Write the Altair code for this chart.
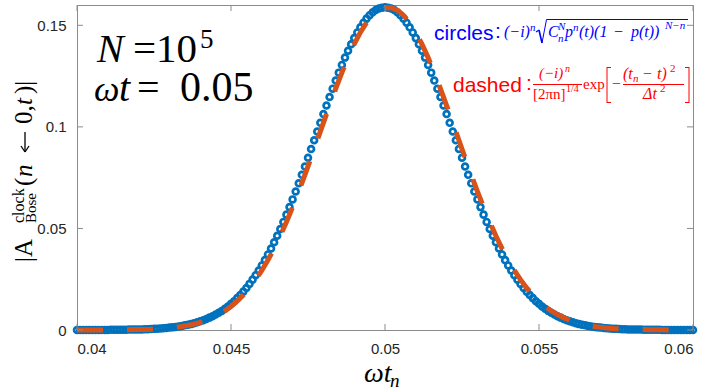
import altair as alt
import pandas as pd

# omega*t_n positions of the circles
x_vals = [
    0.0400, 0.0401, 0.0402, 0.0403, 0.0404, 0.0405, 0.0406, 0.0407, 0.0408, 0.0409,
    0.0410, 0.0411, 0.0412, 0.0413, 0.0414, 0.0415, 0.0416, 0.0417, 0.0418, 0.0419,
    0.0420, 0.0421, 0.0422, 0.0423, 0.0424, 0.0425, 0.0426, 0.0427, 0.0428, 0.0429,
    0.0430, 0.0431, 0.0432, 0.0433, 0.0434, 0.0435, 0.0436, 0.0437, 0.0438, 0.0439,
    0.0440, 0.0441, 0.0442, 0.0443, 0.0444, 0.0445, 0.0446, 0.0447, 0.0448, 0.0449,
    0.0450, 0.0451, 0.0452, 0.0453, 0.0454, 0.0455, 0.0456, 0.0457, 0.0458, 0.0459,
    0.0460, 0.0461, 0.0462, 0.0463, 0.0464, 0.0465, 0.0466, 0.0467, 0.0468, 0.0469,
    0.0470, 0.0471, 0.0472, 0.0473, 0.0474, 0.0475, 0.0476, 0.0477, 0.0478, 0.0479,
    0.0480, 0.0481, 0.0482, 0.0483, 0.0484, 0.0485, 0.0486, 0.0487, 0.0488, 0.0489,
    0.0490, 0.0491, 0.0492, 0.0493, 0.0494, 0.0495, 0.0496, 0.0497, 0.0498, 0.0499,
    0.0500, 0.0501, 0.0502, 0.0503, 0.0504, 0.0505, 0.0506, 0.0507, 0.0508, 0.0509,
    0.0510, 0.0511, 0.0512, 0.0513, 0.0514, 0.0515, 0.0516, 0.0517, 0.0518, 0.0519,
    0.0520, 0.0521, 0.0522, 0.0523, 0.0524, 0.0525, 0.0526, 0.0527, 0.0528, 0.0529,
    0.0530, 0.0531, 0.0532, 0.0533, 0.0534, 0.0535, 0.0536, 0.0537, 0.0538, 0.0539,
    0.0540, 0.0541, 0.0542, 0.0543, 0.0544, 0.0545, 0.0546, 0.0547, 0.0548, 0.0549,
    0.0550, 0.0551, 0.0552, 0.0553, 0.0554, 0.0555, 0.0556, 0.0557, 0.0558, 0.0559,
    0.0560, 0.0561, 0.0562, 0.0563, 0.0564, 0.0565, 0.0566, 0.0567, 0.0568, 0.0569,
    0.0570, 0.0571, 0.0572, 0.0573, 0.0574, 0.0575, 0.0576, 0.0577, 0.0578, 0.0579,
    0.0580, 0.0581, 0.0582, 0.0583, 0.0584, 0.0585, 0.0586, 0.0587, 0.0588, 0.0589,
    0.0590, 0.0591, 0.0592, 0.0593, 0.0594, 0.0595, 0.0596, 0.0597, 0.0598, 0.0599,
    0.0600,
]

# |A| values of the circles
y_vals = [
    0.0000, 0.0000, 0.0000, 0.0000, 0.0000, 0.0000, 0.0000, 0.0000, 0.0000, 0.0000,
    0.0000, 0.0001, 0.0001, 0.0001, 0.0001, 0.0001, 0.0001, 0.0002, 0.0002, 0.0002,
    0.0003, 0.0003, 0.0004, 0.0004, 0.0005, 0.0006, 0.0006, 0.0007, 0.0009, 0.0010,
    0.0012, 0.0013, 0.0015, 0.0017, 0.0020, 0.0023, 0.0026, 0.0029, 0.0033, 0.0038,
    0.0043, 0.0048, 0.0054, 0.0061, 0.0068, 0.0076, 0.0085, 0.0094, 0.0105, 0.0116,
    0.0129, 0.0142, 0.0157, 0.0172, 0.0189, 0.0207, 0.0227, 0.0248, 0.0270, 0.0293,
    0.0318, 0.0344, 0.0372, 0.0401, 0.0432, 0.0464, 0.0497, 0.0532, 0.0568, 0.0605,
    0.0643, 0.0682, 0.0722, 0.0764, 0.0805, 0.0848, 0.0891, 0.0934, 0.0977, 0.1020,
    0.1063, 0.1105, 0.1147, 0.1188, 0.1228, 0.1267, 0.1305, 0.1341, 0.1375, 0.1407,
    0.1437, 0.1465, 0.1490, 0.1513, 0.1533, 0.1550, 0.1564, 0.1575, 0.1583, 0.1587,
    0.1589, 0.1587, 0.1583, 0.1575, 0.1564, 0.1550, 0.1533, 0.1513, 0.1490, 0.1465,
    0.1437, 0.1407, 0.1375, 0.1341, 0.1305, 0.1267, 0.1228, 0.1188, 0.1147, 0.1105,
    0.1063, 0.1020, 0.0977, 0.0934, 0.0891, 0.0848, 0.0805, 0.0764, 0.0722, 0.0682,
    0.0643, 0.0605, 0.0568, 0.0532, 0.0497, 0.0464, 0.0432, 0.0401, 0.0372, 0.0344,
    0.0318, 0.0293, 0.0270, 0.0248, 0.0227, 0.0207, 0.0189, 0.0172, 0.0157, 0.0142,
    0.0129, 0.0116, 0.0105, 0.0094, 0.0085, 0.0076, 0.0068, 0.0061, 0.0054, 0.0048,
    0.0043, 0.0038, 0.0033, 0.0029, 0.0026, 0.0023, 0.0020, 0.0017, 0.0015, 0.0013,
    0.0012, 0.0010, 0.0009, 0.0007, 0.0006, 0.0006, 0.0005, 0.0004, 0.0004, 0.0003,
    0.0003, 0.0002, 0.0002, 0.0002, 0.0001, 0.0001, 0.0001, 0.0001, 0.0001, 0.0001,
    0.0000, 0.0000, 0.0000, 0.0000, 0.0000, 0.0000, 0.0000, 0.0000, 0.0000, 0.0000,
    0.0000,
]

# dashed (Gaussian approximation) curve
x_dash = [
    0.0400, 0.0402, 0.0404, 0.0406, 0.0408, 0.0410, 0.0412, 0.0414, 0.0416, 0.0418,
    0.0420, 0.0422, 0.0424, 0.0426, 0.0428, 0.0430, 0.0432, 0.0434, 0.0436, 0.0438,
    0.0440, 0.0442, 0.0444, 0.0446, 0.0448, 0.0450, 0.0452, 0.0454, 0.0456, 0.0458,
    0.0460, 0.0462, 0.0464, 0.0466, 0.0468, 0.0470, 0.0472, 0.0474, 0.0476, 0.0478,
    0.0480, 0.0482, 0.0484, 0.0486, 0.0488, 0.0490, 0.0492, 0.0494, 0.0496, 0.0498,
    0.0500, 0.0502, 0.0504, 0.0506, 0.0508, 0.0510, 0.0512, 0.0514, 0.0516, 0.0518,
    0.0520, 0.0522, 0.0524, 0.0526, 0.0528, 0.0530, 0.0532, 0.0534, 0.0536, 0.0538,
    0.0540, 0.0542, 0.0544, 0.0546, 0.0548, 0.0550, 0.0552, 0.0554, 0.0556, 0.0558,
    0.0560, 0.0562, 0.0564, 0.0566, 0.0568, 0.0570, 0.0572, 0.0574, 0.0576, 0.0578,
    0.0580, 0.0582, 0.0584, 0.0586, 0.0588, 0.0590, 0.0592, 0.0594, 0.0596, 0.0598,
    0.0600,
]
y_dash = [
    0.0000, 0.0000, 0.0000, 0.0000, 0.0000, 0.0000, 0.0001, 0.0001, 0.0001, 0.0002,
    0.0002, 0.0003, 0.0004, 0.0006, 0.0007, 0.0010, 0.0013, 0.0017, 0.0023, 0.0029,
    0.0038, 0.0048, 0.0061, 0.0076, 0.0094, 0.0116, 0.0142, 0.0172, 0.0207, 0.0248,
    0.0293, 0.0344, 0.0401, 0.0464, 0.0532, 0.0605, 0.0682, 0.0764, 0.0848, 0.0934,
    0.1020, 0.1105, 0.1188, 0.1267, 0.1341, 0.1407, 0.1465, 0.1513, 0.1550, 0.1575,
    0.1587, 0.1587, 0.1575, 0.1550, 0.1513, 0.1465, 0.1407, 0.1341, 0.1267, 0.1188,
    0.1105, 0.1020, 0.0934, 0.0848, 0.0764, 0.0682, 0.0605, 0.0532, 0.0464, 0.0401,
    0.0344, 0.0293, 0.0248, 0.0207, 0.0172, 0.0142, 0.0116, 0.0094, 0.0076, 0.0061,
    0.0048, 0.0038, 0.0029, 0.0023, 0.0017, 0.0013, 0.0010, 0.0007, 0.0006, 0.0004,
    0.0003, 0.0002, 0.0002, 0.0001, 0.0001, 0.0001, 0.0000, 0.0000, 0.0000, 0.0000,
    0.0000,
]

x_ticks = [0.04, 0.045, 0.05, 0.055, 0.06]
y_ticks = [0, 0.05, 0.1, 0.15]

df = pd.DataFrame({"x": x_vals, "y": y_vals})
dd = pd.DataFrame({"x": x_dash, "y": y_dash})
xt = pd.DataFrame({"x": x_ticks})
yt = pd.DataFrame({"y": y_ticks})
one = pd.DataFrame({"a": [0]})

L, T = 77, 5          # plot-area origin in the page
W, H = 616, 325
BOX = "#8c8c8c"
BLUE = "#0000ff"
RED = "#ff0000"
SERIF = "Liberation Serif"

xs = alt.Scale(domain=[0.04, 0.06], nice=False, zero=False)
ys = alt.Scale(domain=[0, 0.16], nice=False)

xaxis = alt.Axis(values=x_ticks, format="~g", grid=False, domain=False, ticks=True,
                 tickSize=0, labelPadding=11, labelFont="Liberation Sans",
                 labelFontSize=15, labelColor="#262626", title=None)
yaxis = alt.Axis(values=y_ticks, format="~g", grid=False, domain=False, ticks=True,
                 tickSize=0, labelPadding=11, labelFont="Liberation Sans",
                 labelFontSize=15, labelColor="#262626", title=None)

circles = alt.Chart(df).mark_point(
    shape="circle", filled=False, size=34, strokeWidth=2.7, color="#0072BD", opacity=1
).encode(x=alt.X("x:Q", scale=xs, axis=xaxis), y=alt.Y("y:Q", scale=ys, axis=yaxis))

dashed = alt.Chart(dd).mark_line(
    color="#D95319", strokeWidth=5, strokeDash=[26, 24]
).encode(x=alt.X("x:Q", scale=xs), y=alt.Y("y:Q", scale=ys))

# inward ticks on all four sides
tk = 6
tb = alt.Chart(xt).mark_rule(color=BOX).encode(x=alt.X("x:Q", scale=xs), y=alt.value(H - tk), y2=alt.value(H))
tt = alt.Chart(xt).mark_rule(color=BOX).encode(x=alt.X("x:Q", scale=xs), y=alt.value(0), y2=alt.value(tk))
tl = alt.Chart(yt).mark_rule(color=BOX).encode(y=alt.Y("y:Q", scale=ys), x=alt.value(0), x2=alt.value(tk))
tr = alt.Chart(yt).mark_rule(color=BOX).encode(y=alt.Y("y:Q", scale=ys), x=alt.value(W - tk), x2=alt.value(W))


def txt(s, x, y, size, color="black", font=SERIF, style="normal",
        angle=0, align="left", baseline="alphabetic"):
    return alt.Chart(one).mark_text(
        text=s, font=font, fontSize=size, fontStyle=style, color=color,
        angle=angle, align=align, baseline=baseline
    ).encode(x=alt.value(x - L), y=alt.value(y - T))


def seg(x1, y1, x2, y2, color, w=1.0):
    return alt.Chart(one).mark_rule(color=color, strokeWidth=w).encode(
        x=alt.value(x1 - L), y=alt.value(y1 - T), x2=alt.value(x2 - L), y2=alt.value(y2 - T))


layers = [circles, dashed, tb, tt, tl, tr]

# big labels
layers += [
    txt("N", 97, 62, 40, style="italic"),
    txt("=10", 133, 62, 41),
    txt("5", 200, 48, 27),
    txt("ω", 94, 101, 36, style="italic"),
    txt("t", 119, 101, 40, style="italic"),
    txt("=", 137, 101, 40),
    txt("0.05", 180, 101, 42),
]

# y-axis title (rotated)
ya = 270
layers += [
    txt("|A", 32, 262, 25, angle=ya),
    txt("clock", 24, 223, 16, angle=ya),
    txt("Bose", 36, 223, 15, angle=ya),
    txt("(", 32, 186, 25, angle=ya),
    txt("n", 32, 177, 25, style="italic", angle=ya),
    # left arrow drawn as strokes (reads bottom-to-top, so it points down)
    seg(25, 132, 25, 152, "black", 1.3),
    seg(25, 152, 21, 146, "black", 1.3),
    seg(25, 152, 29, 146, "black", 1.3),
    txt("0,", 32, 124, 25, angle=ya),
    txt("t", 32, 105, 25, style="italic", angle=ya),
    txt(")|", 32, 94, 25, angle=ya),
]

# x-axis title
layers += [
    txt("ωt", 364, 382, 28, style="italic"),
    txt("n", 390, 387, 19, style="italic"),
]

# circles formula (blue)
layers += [
    txt("circles", 434, 40, 21, color=BLUE, font="Liberation Sans"),
    txt(":", 495, 38, 21, color=BLUE, font="Liberation Sans"),
    txt("(−i)", 504, 37, 16, color=BLUE, style="italic"),
    txt("n", 530, 31, 11, color=BLUE, style="italic"),
    seg(536, 32, 539, 30, BLUE, 1.2),
    seg(539, 30, 542, 43, BLUE, 1.6),
    seg(542, 43, 546.5, 19.5, BLUE, 1.0),
    seg(546.5, 19.5, 688, 19.5, BLUE, 1.0),
    txt("C", 548, 37, 16, color=BLUE, style="italic"),
    txt("N", 558, 30, 11, color=BLUE, style="italic"),
    txt("n", 558, 42, 11, color=BLUE, style="italic"),
    txt("p", 565, 37, 16, color=BLUE, style="italic"),
    txt("n", 573, 31, 11, color=BLUE, style="italic"),
    txt("(t)(1", 579, 37, 16, color=BLUE, style="italic"),
    txt("−", 614, 37, 16, color=BLUE),
    txt("p(t))", 631, 37, 16, color=BLUE, style="italic"),
    txt("N−n", 665, 29, 11, color=BLUE, style="italic"),
]

# dashed formula (red)
layers += [
    txt("dashed", 453, 92, 21, color=RED, font="Liberation Sans"),
    txt(":", 526, 90, 21, color=RED, font="Liberation Sans"),
    txt("(−i)", 539, 78, 15, color=RED, style="italic"),
    txt("n", 565, 72, 10, color=RED, style="italic"),
    seg(533, 84.5, 582, 84.5, RED),
    txt("[2πn]", 533, 99, 15, color=RED),
    txt("1/4", 566, 92, 10, color=RED),
    txt("exp", 583, 89, 15, color=RED),
    seg(607, 67, 607, 103, RED), seg(607, 67.5, 611, 67.5, RED), seg(607, 102.5, 611, 102.5, RED),
    txt("−", 612, 89, 16, color=RED),
    txt("(t", 623, 79, 16, color=RED, style="italic"),
    txt("n", 633, 82, 11, color=RED, style="italic"),
    txt("−", 643, 79, 16, color=RED),
    txt("t)", 657, 79, 16, color=RED, style="italic"),
    txt("2", 670, 72, 11, color=RED),
    seg(623, 84.5, 684, 84.5, RED),
    txt("Δt", 643, 99, 16, color=RED, style="italic"),
    txt("2", 660, 92, 11, color=RED),
    seg(689, 67, 689, 103, RED), seg(685, 67.5, 689, 67.5, RED), seg(685, 102.5, 689, 102.5, RED),
]

chart = alt.layer(*layers).properties(
    width=W, height=H,
    autosize=alt.AutoSizeParams(type="none"),
    padding={"left": L, "top": T, "right": 708 - L - W, "bottom": 391 - T - H},
    background="white",
).configure_view(stroke=BOX, strokeWidth=1)

chart.save("out.html", embed_options={"renderer": "svg", "actions": False})
